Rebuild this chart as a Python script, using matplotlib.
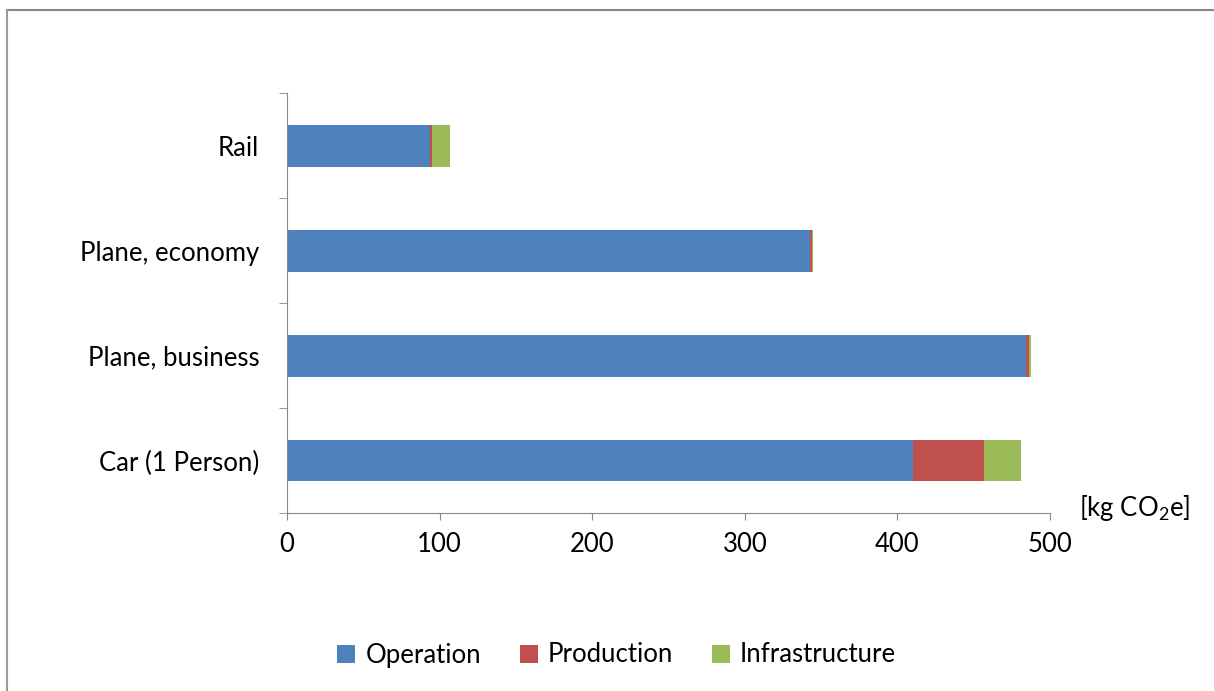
import matplotlib.pyplot as plt
from matplotlib.lines import Line2D
import numpy as np

categories = ['Car (1 Person)', 'Plane, business', 'Plane, economy', 'Rail']
operation = [410, 484, 343, 94]
production = [47, 2, 1, 1.3]
infrastructure = [24, 1.3, 0.7, 11.5]
xticks = [0, 100, 200, 300, 400, 500]

plt.rcParams['font.family'] = ['Lato', 'DejaVu Sans']

fig = plt.figure(figsize=(12.14, 6.91), dpi=100)
ax = fig.add_axes([0.2364, 0.2576, 0.6285, 0.6078])

y = np.arange(len(categories))
left2 = np.array(operation)
left3 = left2 + np.array(production)
ax.barh(y, operation, 0.4, color='#4f81bd', label='Operation')
ax.barh(y, production, 0.4, left=left2, color='#c0504d', label='Production')
ax.barh(y, infrastructure, 0.4, left=left3, color='#9bbb59', label='Infrastructure')

ax.set_xlim(0, 500)
ax.set_ylim(-0.5, 3.5)
ax.set_xticks(xticks)
ax.set_yticks(y, categories)
ax.set_yticks(np.arange(-0.5, 4, 1), minor=True)
ax.tick_params(axis='y', which='major', length=0, pad=20, labelsize=18.5)
ax.tick_params(axis='y', which='minor', length=6, color='#888888')
ax.tick_params(axis='x', length=5, color='#888888', labelsize=18.5, pad=9)
for s in ['top', 'right']:
    ax.spines[s].set_visible(False)
for s in ['left', 'bottom']:
    ax.spines[s].set_color('#888888')

fig.text(1135 / 1214, 1 - 508 / 691, '[kg CO$_\\mathregular{2}$e]', fontsize=18.5, ha='center', va='center')

ax.legend(loc='center', bbox_to_anchor=(0.508, 1 - 655 / 691), bbox_transform=fig.transFigure,
          ncols=3, frameon=False, fontsize=18.5, handlelength=0.7, handleheight=0.7,
          handletextpad=0.4, columnspacing=1.5)

# frame: only top and left edges visible
fig.lines.append(Line2D([7 / 1214, 1], [1 - 10 / 691, 1 - 10 / 691], transform=fig.transFigure,
                        color='#888888', lw=1.5))
fig.lines.append(Line2D([7 / 1214, 7 / 1214], [0, 1 - 10 / 691], transform=fig.transFigure,
                        color='#999999', lw=1.5))

plt.savefig('out.png')
